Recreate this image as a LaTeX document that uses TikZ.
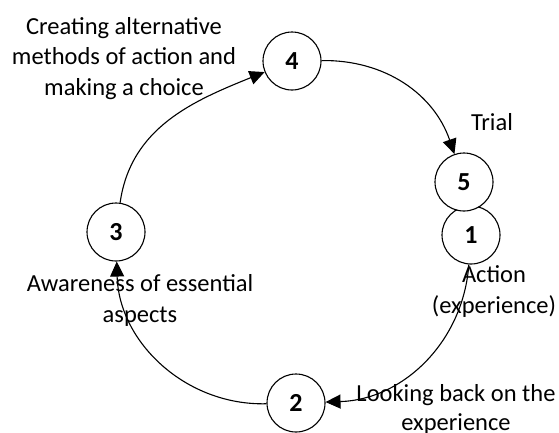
\documentclass[tikz,border=0pt]{standalone}
\usepackage{fontspec}
\setmainfont{Carlito}
\usetikzlibrary{arrows.meta}
\tikzset{
  stage/.style={circle, draw, fill=white, line width=1.1pt, minimum size=58pt, inner sep=0pt, font=\fontsize{26}{30}\selectfont\bfseries},
  lbl/.style={align=center, inner sep=0pt, anchor=base, font=\fontsize{24.5}{30.5}\selectfont},
  flow/.style={line width=1.1pt, -{Triangle[length=15pt,width=14pt]}}
}
\begin{document}
\begin{tikzpicture}[x=1pt,y=1pt]
\useasboundingbox (0,0) rectangle (559,-432);
\node[stage] (n1) at (471,-235) {1};
\node[stage] (n5) at (464,-182) {5};
\node[stage] (n4) at (292,-61) {4};
\node[stage] (n3) at (116,-232) {3};
\node[stage] (n2) at (296,-403) {2};
\node[lbl] (t4) at (124,-95) {Creating alternative\\methods of action and\\making a choice};
\node[lbl] (t5) at (492,-130) {Trial};
\node[lbl] (t1) at (494,-313) {Action\\(experience)};
\node[lbl] (t2) at (456,-430) {Looking back on the\\[-2pt]experience};
\node[lbl] (t3) at (140,-322) {Awareness of essential\\aspects};
\draw[flow] (n4) to[bend left=36] (n5);
\draw[flow] (n1) to[bend left=42] (n2);
\draw[flow] (n2) to[bend left=45] (n3);
\draw[flow] (n3) to[out=82, in=202] (n4);
\end{tikzpicture}
\end{document}
